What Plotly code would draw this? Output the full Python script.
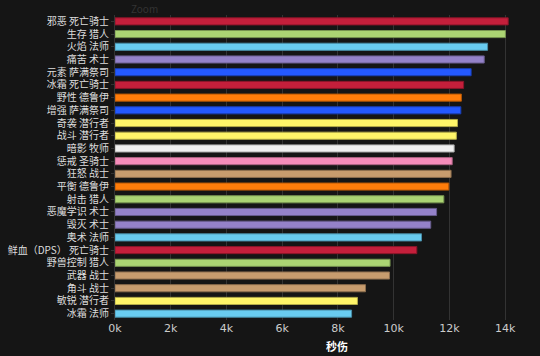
import plotly.graph_objects as go

specs = ["邪恶 死亡骑士", "生存 猎人", "火焰 法师", "痛苦 术士", "元素 萨满祭司", "冰霜 死亡骑士",
         "野性 德鲁伊", "增强 萨满祭司", "奇袭 潜行者", "战斗 潜行者", "暗影 牧师", "惩戒 圣骑士",
         "狂怒 战士", "平衡 德鲁伊", "射击 猎人", "恶魔学识 术士", "毁灭 术士", "奥术 法师",
         "鲜血（DPS） 死亡骑士", "野兽控制 猎人", "武器 战士", "角斗 战士", "敏锐 潜行者", "冰霜 法师"]
dps = [14110, 14010, 13370, 13250, 12780, 12510, 12430, 12410, 12290, 12250, 12170, 12100,
       12060, 11980, 11800, 11540, 11330, 11000, 10830, 9870, 9850, 8990, 8700, 8490]
class_of = ["dk", "hunter", "mage", "warlock", "shaman", "dk", "druid", "shaman", "rogue", "rogue",
            "priest", "paladin", "warrior", "druid", "hunter", "warlock", "warlock", "mage", "dk",
            "hunter", "warrior", "warrior", "rogue", "mage"]
class_colors = {"dk": "#C41F3B", "hunter": "#ABD473", "mage": "#69CCF0", "warlock": "#9482C9",
                "shaman": "#2459FF", "druid": "#FF7D0A", "rogue": "#FFF569", "priest": "#F0F0F0",
                "paladin": "#F58CBA", "warrior": "#C79C6E"}
tick_vals = [0, 2000, 4000, 6000, 8000, 10000, 12000, 14000]
tick_text = ["0k", "2k", "4k", "6k", "8k", "10k", "12k", "14k"]


def darker(hexc, f=0.7):
    h = hexc.lstrip("#")
    r, g, b = (int(h[i:i + 2], 16) for i in (0, 2, 4))
    return "rgb(%d,%d,%d)" % (r * f, g * f, b * f)


L, R, T, B = 115, 7, 15, 36
W, H = 540, 356
pw = W - L - R
ph = H - T - B

cols = [class_colors[c] for c in class_of]
fig = go.Figure(go.Bar(
    x=dps, y=specs, orientation="h",
    marker=dict(color=cols, line=dict(color=[darker(c) for c in cols], width=1)),
    width=0.56,
))
fig.update_layout(
    width=W, height=H,
    margin=dict(l=L, r=R, t=T, b=B, autoexpand=False),
    paper_bgcolor="#151515", plot_bgcolor="#151515",
    font=dict(family="Noto Sans CJK SC, sans-serif", color="#dddddd", size=10),
    showlegend=False,
    xaxis=dict(range=[0, 15000], tickvals=tick_vals, ticktext=tick_text, automargin=False,
               showgrid=True, gridcolor="#333333", gridwidth=1, zeroline=False,
               tickfont=dict(size=11, color="#cccccc", family="DejaVu Sans, sans-serif")),
    yaxis=dict(autorange="reversed", showgrid=False, showline=True, linecolor="#333333",
               tickmode="array", tickvals=specs, ticktext=specs, automargin=False,
               ticks="outside", ticklen=3, tickcolor="#333333",
               tickfont=dict(size=10, color="#dddddd")),
    annotations=[
        dict(text="<b>秒伤</b>", xref="paper", yref="paper", showarrow=False,
             x=(337 - L) / pw, y=(H - B - 346) / ph, yanchor="middle",
             font=dict(size=11, color="#ffffff")),
        dict(text="Zoom", xref="paper", yref="paper", showarrow=False,
             x=(129 - L) / pw, y=(H - B - 8) / ph, yanchor="middle",
             font=dict(size=10, color="#333333")),
    ],
)
fig.write_html("out.html", config={"displayModeBar": False},
               post_script="document.body.style.margin='0';")
